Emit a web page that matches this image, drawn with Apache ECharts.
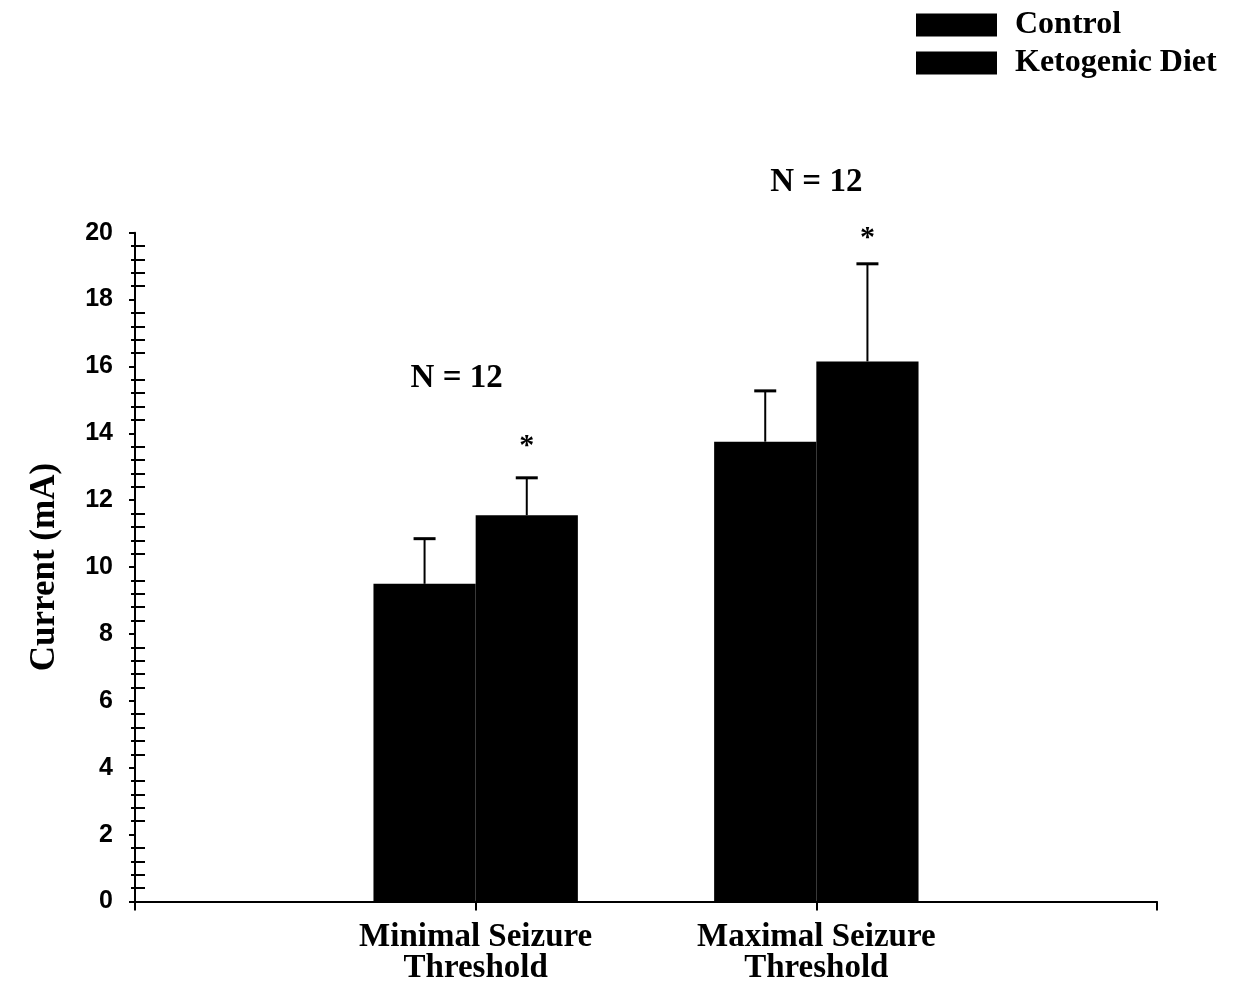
<!DOCTYPE html>
<html>
<head>
<meta charset="utf-8">
<script src="https://cdn.jsdelivr.net/npm/echarts@6/dist/echarts.min.js"></script>
<style>
html,body{margin:0;padding:0;background:#fff;}
#chart{width:1242px;height:983px;}
</style>
</head>
<body>
<div id="chart"></div>
<script>
// ---- data ----
const categories = ['Minimal Seizure\nThreshold', 'Maximal Seizure\nThreshold'];
const seriesNames = ['Control', 'Ketogenic Diet'];
const controlMean = [9.5, 13.75];
const ketoMean = [11.55, 16.15];
const controlSE = [1.35, 1.52];
const ketoSE = [1.12, 2.92];
const nLabels = ['N = 12', 'N = 12'];
const nLabelY = [15.65, 21.5];
const starLabels = ['*', '*'];
const starY = [13.8, 20.0];
const yTicks = [0, 2, 4, 6, 8, 10, 12, 14, 16, 18, 20];

// ---- build ----
const axisCats = [''].concat(categories).concat(['']);
const pad = arr => [null].concat(arr).concat([null]);
const serif = '"Liberation Serif", "Times New Roman", serif';
const sans = '"Liberation Sans", Arial, sans-serif';
const barFrac = 0.30;
const nLabelShift = [-19, 0];

const errData = [];
categories.forEach((c, i) => {
  errData.push([i + 1, controlMean[i], controlSE[i], -1]);
  errData.push([i + 1, ketoMean[i], ketoSE[i], 1]);
});
const annData = categories.map((c, i) => [i + 1, nLabelY[i], starY[i]]);

const chart = echarts.init(document.getElementById('chart'), null, {renderer: 'canvas'});
const yMin = yTicks[0], yMax = yTicks[yTicks.length - 1], yStep = yTicks[1] - yTicks[0];

chart.setOption({
  animation: false,
  backgroundColor: '#fff',
  legend: {
    orient: 'vertical',
    left: 916,
    top: 9,
    padding: 0,
    itemWidth: 81,
    itemHeight: 23,
    itemGap: 6,
    icon: 'rect',
    data: seriesNames,
    textStyle: {fontFamily: serif, fontWeight: 'bold', fontSize: 32, color: '#000', padding: [0, 0, 0, 13]}
  },
  grid: {left: 135, right: 85, top: 232.7, bottom: 81.5, containLabel: false, outerBoundsMode: 'none'},
  xAxis: {
    type: 'category',
    data: axisCats,
    boundaryGap: false,
    axisLine: {lineStyle: {color: '#000', width: 2}},
    axisTick: {show: true, interval: 0, length: 9, lineStyle: {color: '#000', width: 2}},
    axisLabel: {interval: 0, margin: 20, fontFamily: serif, fontWeight: 'bold', fontSize: 33, lineHeight: 31, color: '#000'},
    splitLine: {show: false}
  },
  yAxis: [{
    type: 'value',
    position: 'left',
    min: yMin, max: yMax, interval: yStep,
    name: 'Current (mA)',
    nameLocation: 'middle',
    nameGap: 73,
    nameTextStyle: {fontFamily: serif, fontWeight: 'bold', fontSize: 35, color: '#000'},
    axisLine: {show: true, lineStyle: {color: '#000', width: 2}},
    axisTick: {show: true, length: 6, lineStyle: {color: '#000', width: 2}},
    minorTick: {show: true, splitNumber: 5, length: 4, lineStyle: {color: '#000', width: 2}},
    axisLabel: {margin: 22, fontFamily: sans, fontWeight: 'bold', fontSize: 25, color: '#000'},
    splitLine: {show: false}
  }, {
    type: 'value',
    position: 'left',
    offset: 0,
    min: yMin, max: yMax, interval: yStep,
    axisLine: {show: false},
    axisTick: {show: false, inside: true},
    minorTick: {show: true, splitNumber: 5, length: 10, lineStyle: {color: '#000', width: 2}},
    axisLabel: {show: false},
    splitLine: {show: false}
  }],
  series: [{
    name: seriesNames[0],
    type: 'bar',
    data: pad(controlMean),
    barWidth: (barFrac * 100) + '%',
    barGap: '0%',
    itemStyle: {color: '#000'}
  }, {
    name: seriesNames[1],
    type: 'bar',
    data: pad(ketoMean),
    barWidth: (barFrac * 100) + '%',
    barGap: '0%',
    itemStyle: {color: '#000'}
  }, {
    type: 'custom',
    clip: false,
    z: 5,
    data: errData,
    renderItem: function (params, api) {
      const idx = api.value(0), m = api.value(1), e = api.value(2), side = api.value(3);
      const band = api.size([1, 0])[0];
      const dx = side * band * barFrac / 2;
      const b = api.coord([idx, m]);
      const t = api.coord([idx, m + e]);
      const x = b[0] + dx;
      return {
        type: 'group',
        children: [
          {type: 'line', shape: {x1: x, y1: b[1], x2: x, y2: t[1]}, style: {stroke: '#000', lineWidth: 2}},
          {type: 'line', shape: {x1: x - 11, y1: t[1], x2: x + 11, y2: t[1]}, style: {stroke: '#000', lineWidth: 3}}
        ]
      };
    }
  }, {
    type: 'custom',
    clip: false,
    z: 6,
    data: annData,
    renderItem: function (params, api) {
      const i = params.dataIndex;
      const idx = api.value(0);
      const band = api.size([1, 0])[0];
      const nPt = api.coord([idx, api.value(1)]);
      const sPt = api.coord([idx, api.value(2)]);
      const sx = sPt[0] + band * barFrac / 2;
      return {
        type: 'group',
        children: [
          {type: 'text', x: nPt[0] + nLabelShift[i], y: nPt[1],
           style: {text: nLabels[i], fontFamily: serif, fontWeight: 'bold', fontSize: 33, fill: '#000', align: 'center', verticalAlign: 'middle'}},
          {type: 'text', x: sx, y: sPt[1] + 6,
           style: {text: starLabels[i], fontFamily: serif, fontWeight: 'bold', fontSize: 30, fill: '#000', align: 'center', verticalAlign: 'middle'}}
        ]
      };
    }
  }]
});
</script>
</body>
</html>
